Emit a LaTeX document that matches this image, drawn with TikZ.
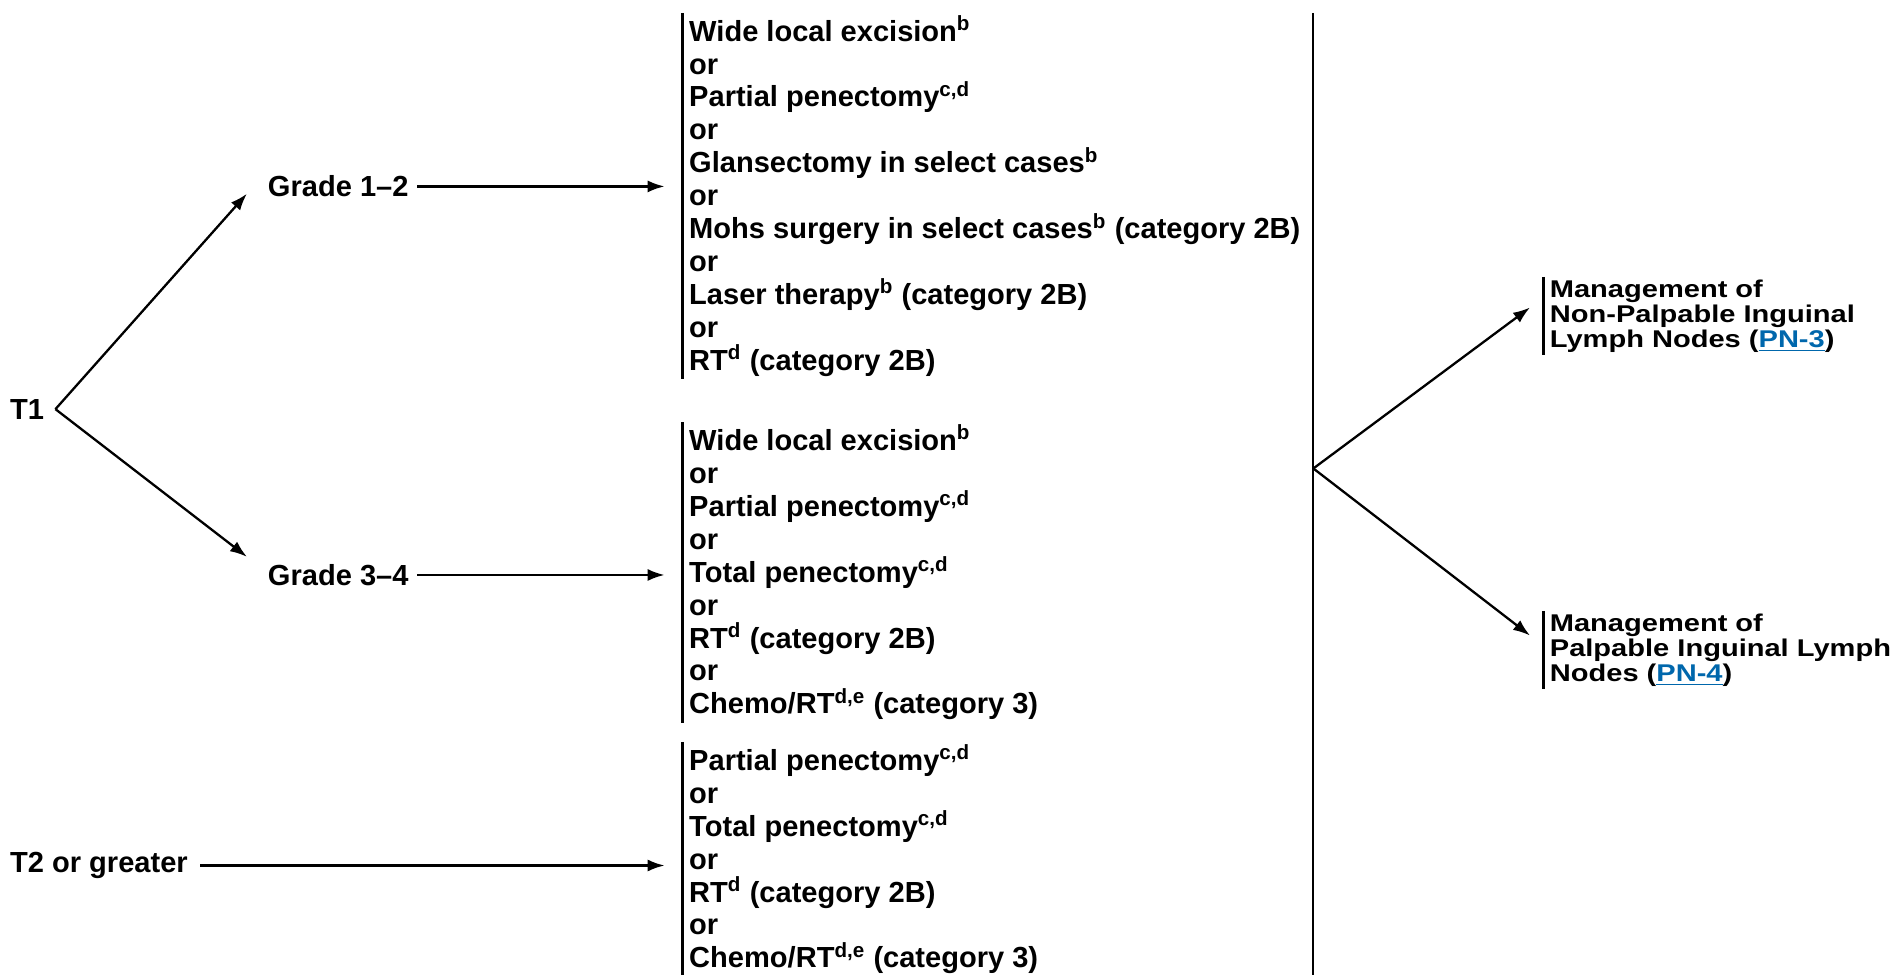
\documentclass[tikz,border=0pt]{standalone}
\usepackage{fontspec}
\setmainfont{Liberation Sans}
\newfontfamily\widefont{Liberation Sans}[FakeStretch=1.2]
\usetikzlibrary{arrows.meta}
\definecolor{lnk}{RGB}{0,103,172}
\newcommand{\pnlink}[1]{\textcolor{lnk}{\underline{#1}}}
\newcommand{\sps}[1]{\textsuperscript{\fontsize{8.5}{8.5}\selectfont #1}}

\begin{document}
\begin{tikzpicture}[
        x=0.5pt, y=-0.5pt,
        every node/.style={font=\bfseries\fontsize{12}{13.6}\selectfont, inner sep=0pt},
        opt/.style={align=left, anchor=west, inner xsep=2.5pt, inner ysep=1pt},
        mgmt/.style={opt, font=\widefont\bfseries\fontsize{10}{10.3}\selectfont},
        arr/.style={line width=0.95pt, -{Latex[length=7pt,width=5pt]}},
        bar/.style={line width=1pt}
    ]
    \useasboundingbox (0,0) rectangle (1568,805);
    % stages
    \node[anchor=west] (t1) at (8,338) {T1};
    \node[anchor=west] (t2) at (8,715) {T2 or greater};
    \node[anchor=west] (g12) at (221,154) {Grade 1–2};
    \node[anchor=west] (g34) at (221,475) {Grade 3–4};
    % primary treatment
    \node[opt] (trt1) at (564,162) {Wide local excision\sps{b}\\
        or\\
        Partial penectomy\sps{c,d}\\
        or\\
        Glansectomy in select cases\sps{b}\\
        or\\
        Mohs surgery in select cases\sps{b} (category 2B)\\
        or\\
        Laser therapy\sps{b} (category 2B)\\
        or\\
        RT\sps{d} (category 2B)};
    \node[opt] (trt2) at (564,473) {Wide local excision\sps{b}\\
        or\\
        Partial penectomy\sps{c,d}\\
        or\\
        Total penectomy\sps{c,d}\\
        or\\
        RT\sps{d} (category 2B)\\
        or\\
        Chemo/RT\sps{d,e} (category 3)};
    \node[opt] (trt3) at (564,710) {Partial penectomy\sps{c,d}\\
        or\\
        Total penectomy\sps{c,d}\\
        or\\
        RT\sps{d} (category 2B)\\
        or\\
        Chemo/RT\sps{d,e} (category 3)};
    % nodes management
    \node[mgmt] (mng1) at (1275,261) {Management of\\
        Non-Palpable Inguinal\\
        Lymph Nodes (\pnlink{PN-3})};
    \node[mgmt] (mng2) at (1275,537) {Management of\\
        Palpable Inguinal Lymph\\
        Nodes (\pnlink{PN-4})};
    \foreach \b in {trt1,trt2,trt3,mng1,mng2}
        \draw[bar] (\b.north west) -- (\b.south west);

    \coordinate (t1r) at ([xshift=4.5pt]t1.east);
    \draw[arr] (t1r) -- ([shift={(-17,6)}]g12.west);
    \draw[arr] (t1r) -- ([shift={(-17,-15)}]g34.west);
    \draw[arr, shorten <=3.5pt, shorten >=7.5pt] (g12.east) -- (g12.east -| trt1.west);
    \draw[arr, shorten <=3.5pt, shorten >=7.5pt] (g34.east) -- (g34.east -| trt2.west);
    \draw[arr, shorten <=5pt, shorten >=7.5pt] (t2.east) -- (t2.east -| trt3.west);

    \coordinate (jn) at (1085,387);
    \draw[line width=0.9pt] (jn |- trt1.north) -- (jn |- trt3.south);
    \draw[arr] (jn) -- ([shift={(-11,-7)}]mng1.west);
    \draw[arr] (jn) -- ([shift={(-11,-12)}]mng2.west);
\end{tikzpicture}
\end{document}
